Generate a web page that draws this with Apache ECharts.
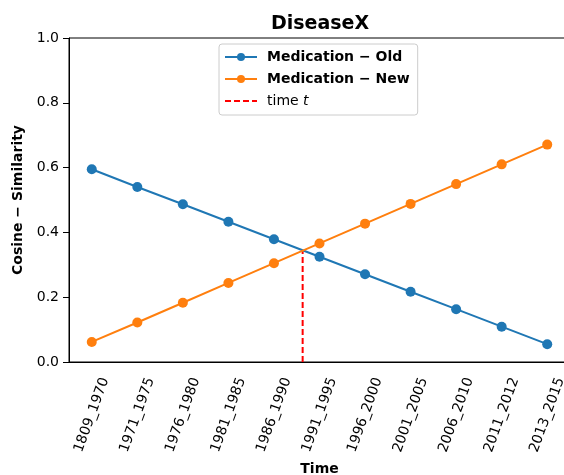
<!DOCTYPE html>
<html>
<head>
<meta charset="utf-8">
<script src="https://cdn.jsdelivr.net/npm/echarts@6/dist/echarts.min.js"></script>
<style>
  html, body { margin: 0; padding: 0; background: #ffffff; }
  #chart { width: 564px; height: 475px; }
</style>
</head>
<body>
<div id="chart"></div>
<script>
// data
const periods = ['1809_1970', '1971_1975', '1976_1980', '1981_1985', '1986_1990',
  '1991_1995', '1996_2000', '2001_2005', '2006_2010', '2011_2012', '2013_2015']
const medicationOld = [0.595, 0.540, 0.487, 0.433, 0.379, 0.325, 0.271, 0.217, 0.163, 0.109, 0.055]
const medicationNew = [0.062, 0.122, 0.183, 0.244, 0.305, 0.366, 0.427, 0.488, 0.549, 0.610, 0.671]
const timeT = 4.63        // position on the category index scale
const timeTTop = 0.345    // where the two lines cross
const yTicks = [0, 0.2, 0.4, 0.6, 0.8, 1.0]

const font = 'DejaVu Sans'
const chart = echarts.init(document.getElementById('chart'))

chart.setOption({
  animation: false,
  textStyle: { fontFamily: font, color: '#000' },
  title: {
    text: 'DiseaseX',
    left: 315,
    textAlign: 'center',
    top: 10,
    textStyle: { fontFamily: font, fontSize: 19, fontWeight: 'bold', color: '#000' }
  },
  legend: {
    orient: 'vertical',
    left: 219,
    top: 44,
    padding: [6, 8, 7, 5],
    itemGap: 8,
    itemWidth: 32,
    itemHeight: 10,
    borderColor: '#cccccc',
    borderWidth: 1,
    borderRadius: 3,
    backgroundColor: '#ffffff',
    data: [
      { name: 'Medication − Old' },
      { name: 'Medication − New' },
      { name: 'time t', itemStyle: { opacity: 0 } }
    ],
    formatter: function (name) {
      if (name === 'time t') return '{n|time }{i|t}'
      return '{b|' + name + '}'
    },
    textStyle: {
      fontFamily: font,
      fontSize: 14,
      color: '#000',
      padding: [0, 0, 0, 5],
      rich: {
        b: { fontFamily: font, fontSize: 14, fontWeight: 'bold', color: '#000' },
        n: { fontFamily: font, fontSize: 14, color: '#000' },
        i: { fontFamily: font, fontSize: 14, fontStyle: 'italic', color: '#000' }
      }
    }
  },
  grid: {
    left: 69, top: 38, width: 501, bottom: 113,
    containLabel: false, outerBoundsMode: 'none',
    show: true, borderColor: '#000', borderWidth: 1, backgroundColor: 'transparent'
  },
  xAxis: [{
    type: 'category',
    data: periods,
    boundaryGap: true,
    name: 'Time',
    nameLocation: 'middle',
    nameGap: 99,
    nameTextStyle: { fontFamily: font, fontSize: 14, fontWeight: 'bold', color: '#000' },
    axisLine: { onZero: false, lineStyle: { color: '#000', width: 1 } },
    axisTick: { alignWithLabel: true, length: 6, lineStyle: { color: '#000' } },
    axisLabel: {
      interval: 0,
      rotate: 70,
      align: 'center',
      verticalAlign: 'middle',
      margin: 53,
      fontFamily: font,
      fontSize: 14,
      color: '#000'
    },
    splitLine: { show: false }
  }, {
    type: 'value',
    min: -0.5,
    max: 10.5,
    show: false
  }],
  yAxis: {
    type: 'value',
    min: 0,
    max: 1,
    interval: 0.2,
    name: 'Cosine − Similarity',
    nameLocation: 'middle',
    nameGap: 36,
    nameTextStyle: { fontFamily: font, fontSize: 14, fontWeight: 'bold', color: '#000' },
    axisLine: { show: true, onZero: false, lineStyle: { color: '#000', width: 1 } },
    axisTick: { show: true, length: 6, lineStyle: { color: '#000' } },
    axisLabel: {
      fontFamily: font,
      fontSize: 14,
      color: '#000',
      margin: 10,
      formatter: v => yTicks.includes(Math.round(v * 10) / 10) ? v.toFixed(1) : ''
    },
    splitLine: { show: false }
  },
  series: [{
    name: 'Medication − Old',
    type: 'line',
    data: medicationOld,
    color: '#1f77b4',
    symbol: 'circle',
    symbolSize: 10,
    lineStyle: { width: 2 },
    z: 3
  }, {
    name: 'Medication − New',
    type: 'line',
    data: medicationNew,
    color: '#ff7f0e',
    symbol: 'circle',
    symbolSize: 10,
    lineStyle: { width: 2 },
    z: 3
  }, {
    name: 'time t',
    type: 'line',
    xAxisIndex: 1,
    data: [[timeT, 0], [timeT, timeTTop]],
    color: '#ff0000',
    symbol: 'none',
    lineStyle: { width: 2, type: [6, 3] },
    z: 2
  }]
})
</script>
</body>
</html>
